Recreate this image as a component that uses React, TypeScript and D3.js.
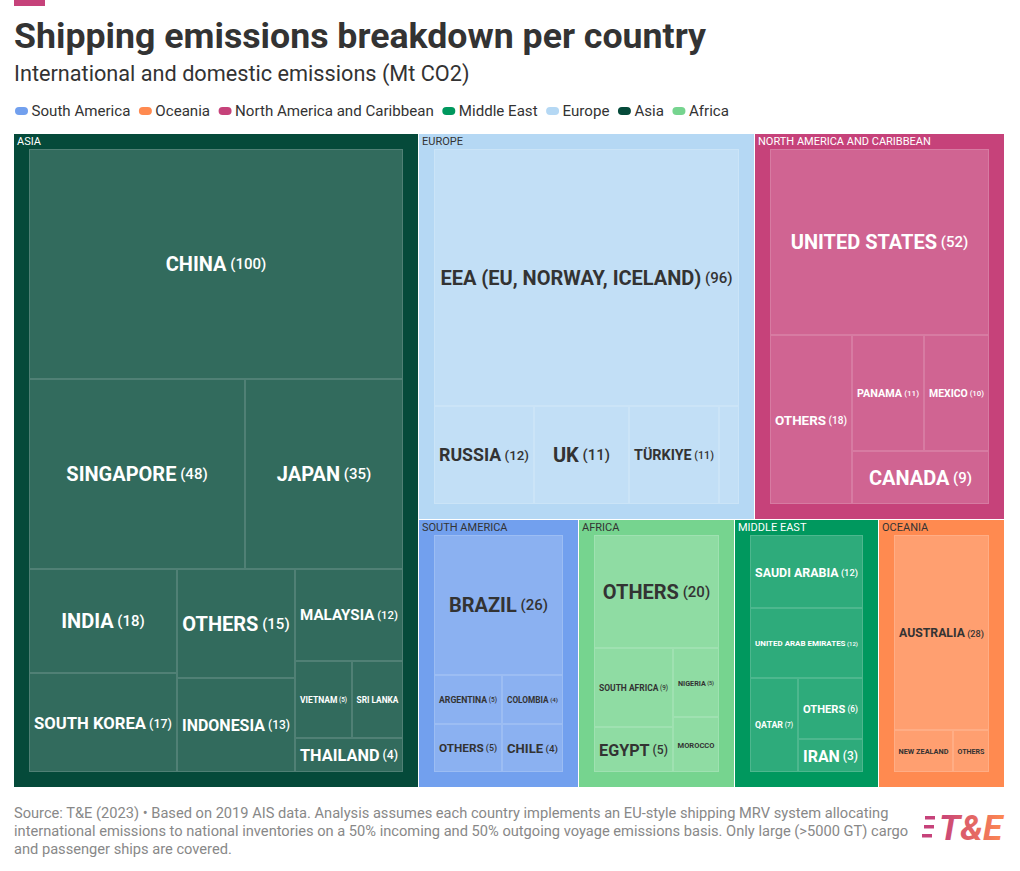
import React, { useMemo } from "react";
import * as d3 from "d3";

// ---------- DATA ----------
const regionNames = [
  "Asia",
  "Europe",
  "North America and Caribbean",
  "South America",
  "Africa",
  "Middle East",
  "Oceania",
];
const legendOrder = [
  "South America",
  "Oceania",
  "North America and Caribbean",
  "Middle East",
  "Europe",
  "Asia",
  "Africa",
];

const asiaNames = ["CHINA", "SINGAPORE", "JAPAN", "INDIA", "SOUTH KOREA", "OTHERS", "INDONESIA", "MALAYSIA", "VIETNAM", "SRI LANKA", "THAILAND"];
const asiaValues = [100, 48, 35, 18, 17, 15, 13, 11.5, 5.1, 4.6, 4.2];

const europeNames = ["EEA (EU, NORWAY, ICELAND)", "RUSSIA", "UK", "TÜRKIYE", "OTHERS"];
const europeValues = [96, 12.1, 11.4, 10.8, 2.4];

const northAmericaNames = ["UNITED STATES", "OTHERS", "PANAMA", "MEXICO", "CANADA"];
const northAmericaValues = [52, 17.7, 10.6, 9.6, 9.1];

const southAmericaNames = ["BRAZIL", "ARGENTINA", "OTHERS", "COLOMBIA", "CHILE"];
const southAmericaValues = [26, 4.8, 4.7, 4.3, 4.2];

const africaNames = ["OTHERS", "SOUTH AFRICA", "EGYPT", "NIGERIA", "MOROCCO"];
const africaValues = [20.4, 9.1, 5.1, 4.6, 3.7];

const middleEastNames = ["SAUDI ARABIA", "UNITED ARAB EMIRATES", "QATAR", "OTHERS", "IRAN"];
const middleEastValues = [12.2, 11.8, 6.7, 5.8, 3.2];

const oceaniaNames = ["AUSTRALIA", "NEW ZEALAND", "OTHERS"];
const oceaniaValues = [28.4, 3.8, 2.3];

const countryNames = [asiaNames, europeNames, northAmericaNames, southAmericaNames, africaNames, middleEastNames, oceaniaNames];
const countryValues = [asiaValues, europeValues, northAmericaValues, southAmericaValues, africaValues, middleEastValues, oceaniaValues];

// cells whose label is shown without its value in the original
const nameOnlyLabels = ["Asia/SRI LANKA", "Africa/MOROCCO", "Oceania/NEW ZEALAND", "Oceania/OTHERS"];

const titleText = "Shipping emissions breakdown per country";
const subtitleText = "International and domestic emissions (Mt CO2)";
const footerLines = [
  "Source: T&E (2023) • Based on 2019 AIS data. Analysis assumes each country implements an EU-style shipping MRV system allocating",
  "international emissions to national inventories on a 50% incoming and 50% outgoing voyage emissions basis. Only large (>5000 GT) cargo",
  "and passenger ships are covered.",
];

// ---------- STYLE ----------
const regionColor: Record<string, string> = {
  "South America": "#72a0ee",
  Oceania: "#ff8a50",
  "North America and Caribbean": "#c6427a",
  "Middle East": "#00985e",
  Europe: "#b5d8f4",
  Asia: "#054a3a",
  Africa: "#76d48f",
};
const darkRegions = new Set(["Asia", "North America and Caribbean", "Middle East"]);
const FONT = "Roboto, 'Noto Sans', Arial, sans-serif";

const W = 1020;
const H = 871;
const chartX = 14;
const chartY = 134;
const chartW = 990;
const chartH = 653;

let measureCtx: CanvasRenderingContext2D | null = null;
function textWidth(text: string, size: number, weight: number) {
  if (!measureCtx) measureCtx = document.createElement("canvas").getContext("2d");
  if (!measureCtx) return text.length * size * 0.6;
  measureCtx.font = `${weight} ${size}px Roboto`;
  return measureCtx.measureText(text).width;
}

function blend(c: string, t: number) {
  const col = d3.rgb(c);
  return d3.rgb(col.r + (255 - col.r) * t, col.g + (255 - col.g) * t, col.b + (255 - col.b) * t).formatHex();
}

export default function App() {
  const root = useMemo(() => {
    const data = {
      name: "root",
      children: regionNames.map((r, i) => ({
        name: r,
        children: countryNames[i].map((n, j) => ({ name: n, value: countryValues[i][j] })),
      })),
    };
    const h = d3
      .hierarchy<any>(data)
      .sum((d: any) => d.value || 0)
      .sort((a, b) => (b.value || 0) - (a.value || 0));
    d3
      .treemap<any>()
      .tile(d3.treemapSquarify.ratio(1))
      .size([chartW, chartH])
      .paddingInner((n: any) => (n.depth === 0 ? 1 : 0))
      .paddingTop((n: any) => (n.depth === 1 ? 15 : 0))
      .paddingLeft((n: any) => (n.depth === 1 ? 15 : 0))
      .paddingRight((n: any) => (n.depth === 1 ? 15 : 0))
      .paddingBottom((n: any) => (n.depth === 1 ? 15 : 0))
      .round(true)(h);
    return h as d3.HierarchyRectangularNode<any>;
  }, []);

  const legendFont = 15.1;
  const legendItems = useMemo(() => {
    let x = 15;
    return legendOrder.map((name) => {
      const item = { name, x };
      x += 16.5 + textWidth(name, legendFont, 400) + 8.5;
      return item;
    });
  }, []);

  const groups = root.children || [];

  function leafLabel(leaf: d3.HierarchyRectangularNode<any>, region: string) {
    const w = leaf.x1 - leaf.x0;
    const h = leaf.y1 - leaf.y0;
    const name = leaf.data.name as string;
    const valStr = ` (${Math.round(leaf.value || 0)})`;
    const ratio = 0.75;
    const unitName = textWidth(name, 10, 700) / 10;
    const unitFull = unitName + (textWidth(valStr, 10, 500) / 10) * ratio;
    let size = Math.min(20, (w - 10) / unitFull, (h - 4) / 1.3);
    let showVal = true;
    if (nameOnlyLabels.includes(`${region}/${name}`) || (w - 6) / unitFull < 6.5) {
      showVal = false;
      size = Math.min(20, (w - 9) / unitName, (h - 4) / 1.3);
      if (size < 5) return null;
    }
    const color = darkRegions.has(region) ? "#ffffff" : "#333333";
    return (
      <text
        x={(leaf.x0 + leaf.x1) / 2}
        y={(leaf.y0 + leaf.y1) / 2}
        textAnchor="middle"
        dominantBaseline="central"
        fill={color}
        fontFamily={FONT}
      >
        <tspan fontWeight={700} fontSize={size}>{name}</tspan>
        {showVal && (
          <tspan fontWeight={500} fontSize={size * ratio}>{valStr}</tspan>
        )}
      </text>
    );
  }

  return (
    <svg
      width={W}
      height={H}
      viewBox={`0 0 ${W} ${H}`}
      style={{ position: "absolute", left: 0, top: 0, background: "#fff" }}
      fontFamily={FONT}
    >
      <rect x={14} y={0} width={31} height={6} fill="#c6427a" />
      <text x={14} y={48} fontSize={35.7} fontWeight={700} fill="#333333">{titleText}</text>
      <text x={14} y={81} fontSize={21.7} fontWeight={400} fill="#333333">{subtitleText}</text>

      {legendItems.map((it) => (
        <g key={it.name}>
          <rect x={it.x} y={107} width={13} height={8} rx={4} fill={regionColor[it.name]} />
          <text x={it.x + 16.5} y={111} fontSize={legendFont} dominantBaseline="central" fill="#333333">
            {it.name}
          </text>
        </g>
      ))}

      <g transform={`translate(${chartX},${chartY})`}>
        {groups.map((g) => {
          const region = g.data.name as string;
          const base = regionColor[region];
          const leafFill = blend(base, 0.18);
          const stroke = blend(base, 0.3);
          return (
            <g key={region}>
              <rect x={g.x0} y={g.y0} width={g.x1 - g.x0} height={g.y1 - g.y0} fill={base} />
              <text
                x={g.x0 + 3}
                y={g.y0 + 11}
                fontSize={11}
                fill={darkRegions.has(region) ? "#ffffff" : "#333333"}
              >
                {region.toUpperCase()}
              </text>
              {(g.children || []).map((leaf, j) => (
                <g key={j}>
                  <rect
                    x={leaf.x0 + 0.5}
                    y={leaf.y0 + 0.5}
                    width={Math.max(0, leaf.x1 - leaf.x0 - 1)}
                    height={Math.max(0, leaf.y1 - leaf.y0 - 1)}
                    fill={leafFill}
                    stroke={stroke}
                    strokeWidth={1}
                  />
                  {leafLabel(leaf, region)}
                </g>
              ))}
            </g>
          );
        })}
      </g>

      {footerLines.map((l, i) => (
        <text key={i} x={14} y={818 + i * 18} fontSize={14.65} fill="#888888">
          {l}
        </text>
      ))}

      <defs>
        <linearGradient id="logoGrad" x1="0" x2="1" y1="0" y2="0">
          <stop offset="0" stopColor="#c6427a" />
          <stop offset="1" stopColor="#ff8a50" />
        </linearGradient>
      </defs>
      <g>
        <rect x={925} y={816} width={10} height={3.5} fill="#c6427a" />
        <rect x={924} y={825} width={10} height={3.5} fill="#c6427a" />
        <rect x={922} y={834} width={10} height={3.5} fill="#c6427a" />
        <text
          x={939}
          y={840}
          fontSize={35.5}
          fontWeight={700}
          fontStyle="italic"
          fill="url(#logoGrad)"
        >
          T&amp;E
        </text>
      </g>
    </svg>
  );
}
